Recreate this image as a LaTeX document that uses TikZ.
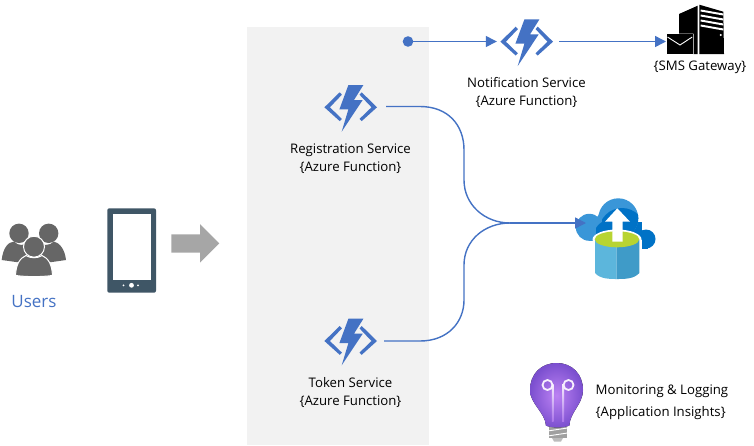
\documentclass[tikz,border=0pt]{standalone}
\usepackage{fontspec}
\setmainfont{Open Sans}
\usetikzlibrary{arrows.meta,shadings}
\definecolor{fnblue}{HTML}{4472C4}
\definecolor{panelgray}{HTML}{F2F2F2}
\definecolor{persongray}{HTML}{666666}
\definecolor{phoneslate}{HTML}{3F5666}
\definecolor{arrowgray}{HTML}{A6A6A6}
\definecolor{cloudlight}{HTML}{3A96D8}
\definecolor{clouddark}{HTML}{0072C6}
\definecolor{drumlight}{HTML}{5CB6DC}
\definecolor{drumdark}{HTML}{3F9BC8}
\definecolor{drumtop}{HTML}{B8D432}
\definecolor{bulbin}{HTML}{BC82F3}
\definecolor{bulbout}{HTML}{7B4FCF}
\definecolor{basegray}{HTML}{A0A0A0}
\tikzset{
  x=1pt,y=-1pt,
  conn/.style={draw=fnblue,line width=1.4pt,-{Triangle[length=11pt,width=11pt]}},
  connplain/.style={draw=fnblue,line width=1.4pt},
  lbl/.style={font=\fontsize{13.2pt}{18pt}\selectfont,text=black,align=center,inner sep=0pt},
  anchorbox/.style={inner sep=0pt,minimum width=#1,minimum height=46pt},
  fnicon/.pic={
    \fill[fnblue] (-26.3,0)--(-11,-15)--(-8.8,-12.6)--(-20.8,0)--(-8.8,11.6)--(-11,13.8)--cycle;
    \fill[fnblue] (26.3,0)--(11,-15)--(8.8,-12.6)--(20.8,0)--(8.8,11.6)--(11,13.8)--cycle;
    \fill[fnblue] (-2.3,-22.3)--(12.7,-22.3)--(3.3,-7.3)--(12,-7.3)--(-9,24.3)--(-2.3,2)--(-11.3,2)--cycle;
  }
}
\begin{document}
\begin{tikzpicture}
\useasboundingbox (0,0) rectangle (754,445);
\fill[white] (0,0) rectangle (754,445);
% panel
\fill[panelgray] (247,27) rectangle (429,445);

% users
\fill[persongray] (19,233.3) circle (9.7);
\fill[persongray] (48.7,233.3) circle (9.7);
\fill[persongray] (1.7,260) .. controls (3,248) and (8,242) .. (14,241.5) .. controls (18,246) and (24,246) .. (30,242) -- (36,242) .. controls (42,246) and (50,246) .. (54,241.5) .. controls (60,243) and (65,250) .. (66,260) -- (52,262) -- (16,262) -- cycle;
\draw[white,line width=1pt,fill=persongray] (34,246.7) circle (10.5);
\draw[white,line width=1pt,fill=persongray] (15.5,275.5) .. controls (16,264) and (20,258) .. (26,255.5) .. controls (30,258.5) and (38,258.5) .. (42,255.5) .. controls (48,258) and (52,264) .. (52.5,275.5) .. controls (40,277) and (28,277) .. (15.5,275.5) -- cycle;
\node[font=\fontsize{17pt}{18pt}\selectfont,text=fnblue,inner sep=0pt] (users) at (34,302) {Users};

% phone
\fill[phoneslate,rounded corners=2pt] (107.3,208.3) rectangle (156,292.7);
\fill[white] (112.7,214) rectangle (150.7,280);
\fill[white] (131.5,285.3) circle (2.4);
\fill[white] (123.5,285.3) circle (1);
\fill[white] (138,285.3) circle (1);

% big arrow
\fill[arrowgray] (171.3,234.3)--(200,234.3)--(200,224)--(219.3,243.3)--(200,262.7)--(200,252.7)--(171.3,252.7)--cycle;

% function icons
\pic at (350.7,107.3) {fnicon};
\pic at (526.7,41.7) {fnicon};
\pic at (350.7,341) {fnicon};
\node[anchorbox=70pt] (reg) at (351,106.5) {};
\node[anchorbox=66pt] (tok) at (351,341) {};
\node[anchorbox=62pt] (notif) at (528,41.5) {};
\coordinate (dot) at (408,41.5);
\coordinate (store) at (586,223);
\coordinate (gate) at (666,41.5);
\coordinate (join) at (510,223);

% storage icon
\fill[clouddark] (646,239) circle (9.5);
\fill[clouddark] (600,222) rectangle (642,248.3);
\fill[clouddark] (632,232) rectangle (648,248.5);
\fill[cloudlight] (618.3,218.3) circle (20);
\begin{scope}
  \clip (618.3,218.3) circle (20);
  \fill[clouddark] (622,231) circle (23);
\end{scope}
\fill[cloudlight] (589.3,227.3) circle (13.5);
\fill[cloudlight] (590,226) -- (601,212) -- (604,240.8) -- (590,240.8) -- cycle;
\fill[clouddark] (596,228) .. controls (600,222) and (603,221) .. (606,222) -- (606,248) -- (596,248) -- cycle;
% drum
\fill[white] (592.7,239.5) rectangle (641.7,262);
\fill[white] (617,239.5) ellipse (24.5 and 10);
\fill[drumlight] (595,239.5) -- (595,273) .. controls (600,279) and (610,279) .. (616.7,279) -- (616.7,239.5) -- cycle;
\fill[drumdark] (616.7,239.5) -- (616.7,279) .. controls (625,279) and (634,279) .. (639.3,273) -- (639.3,239.5) -- cycle;
\fill[drumtop] (617,239.3) ellipse (22.3 and 8);
\fill[white] (617.3,208.3)--(630,221.7)--(622.7,221.7)--(622.7,241.7)--(612.3,241.7)--(612.3,221.7)--(605,221.7)--cycle;

% gateway
\fill[black] (679,14)--(697.7,5.7)--(697.7,54)--(693.5,54)--(693.5,33.5)--(679,33.5)--cycle;
\fill[black] (699.3,4.7)--(723.3,11.7)--(724,54)--(699.3,54)--cycle;
\foreach \yy in {9.5,14.5,19.5,24.5}{
  \fill[white] (700.7,\yy) -- (723.3,\yy+4) -- (723.3,\yy+6) -- (700.7,\yy+2) -- cycle;
}
\fill[white] (720.7,35) circle (1.2);
\fill[black] (666.7,34.3) rectangle (693,53.7);
\draw[white,line width=.9pt] (667.5,37) -- (680,45) -- (692.2,37);
\node[lbl] (gatelbl) at (700,67.5) {\{SMS Gateway\}};

% bulb
\fill[basegray] (548.5,427) rectangle (566.5,438);
\fill[basegray!70] (552,438) -- (563,438) -- (561,441.5) -- (554,441.5) -- cycle;
\draw[white,line width=.9pt] (547.5,431) -- (567.5,428);
\draw[white,line width=.9pt] (547.5,436) -- (567.5,433);
\fill[inner color=bulbin,outer color=bulbout] (546,425.7) .. controls (545,412) and (530,404) .. (530,390) .. controls (530,374) and (541,363) .. (556.7,363) .. controls (572,363) and (583,374) .. (583,390) .. controls (583,404) and (570,412) .. (569.3,425.7) .. controls (562,428) and (553,428) .. (546,425.7) -- cycle;
\shade[top color=white!88!bulbin,bottom color=bulbin!75!bulbout] (551.8,384) rectangle (553.6,421);
\shade[top color=white!88!bulbin,bottom color=bulbin!75!bulbout] (562.2,384) rectangle (564,421);
\draw[white!88!bulbin,line width=1.8pt] (547.5,385) circle (5);
\draw[white!88!bulbin,line width=1.8pt] (568.5,385) circle (5);

% labels
\node[lbl] (reglbl) at (350.5,158.5) {Registration Service\\\{Azure Function\}};
\node[lbl] (notiflbl) at (526.5,92) {Notification Service\\\{Azure Function\}};
\node[lbl] (toklbl) at (350.5,392.5) {Token Service\\\{Azure Function\}};
\node[lbl,align=left,anchor=west,font=\fontsize{13.2pt}{22pt}\selectfont] (monlbl) at (595.5,402.5) {Monitoring \& Logging\\\{Application Insights\}};

% connectors
\fill[fnblue] (dot) circle (5.3);
\draw[conn] (dot) -- (notif.west);
\draw[conn] (notif.east) -- (gate);
\draw[connplain] (reg.east) -- (420,106.5) .. controls (448,106.5) and (464,125) .. (464,150) -- (464,180) .. controls (464,205) and (485,223) .. (join);
\draw[connplain] (tok.east) -- (420,341) .. controls (448,341) and (464,322) .. (464,300) -- (464,265) .. controls (464,240) and (485,223) .. (join);
\draw[conn] (join) -- (store);
\end{tikzpicture}
\end{document}
